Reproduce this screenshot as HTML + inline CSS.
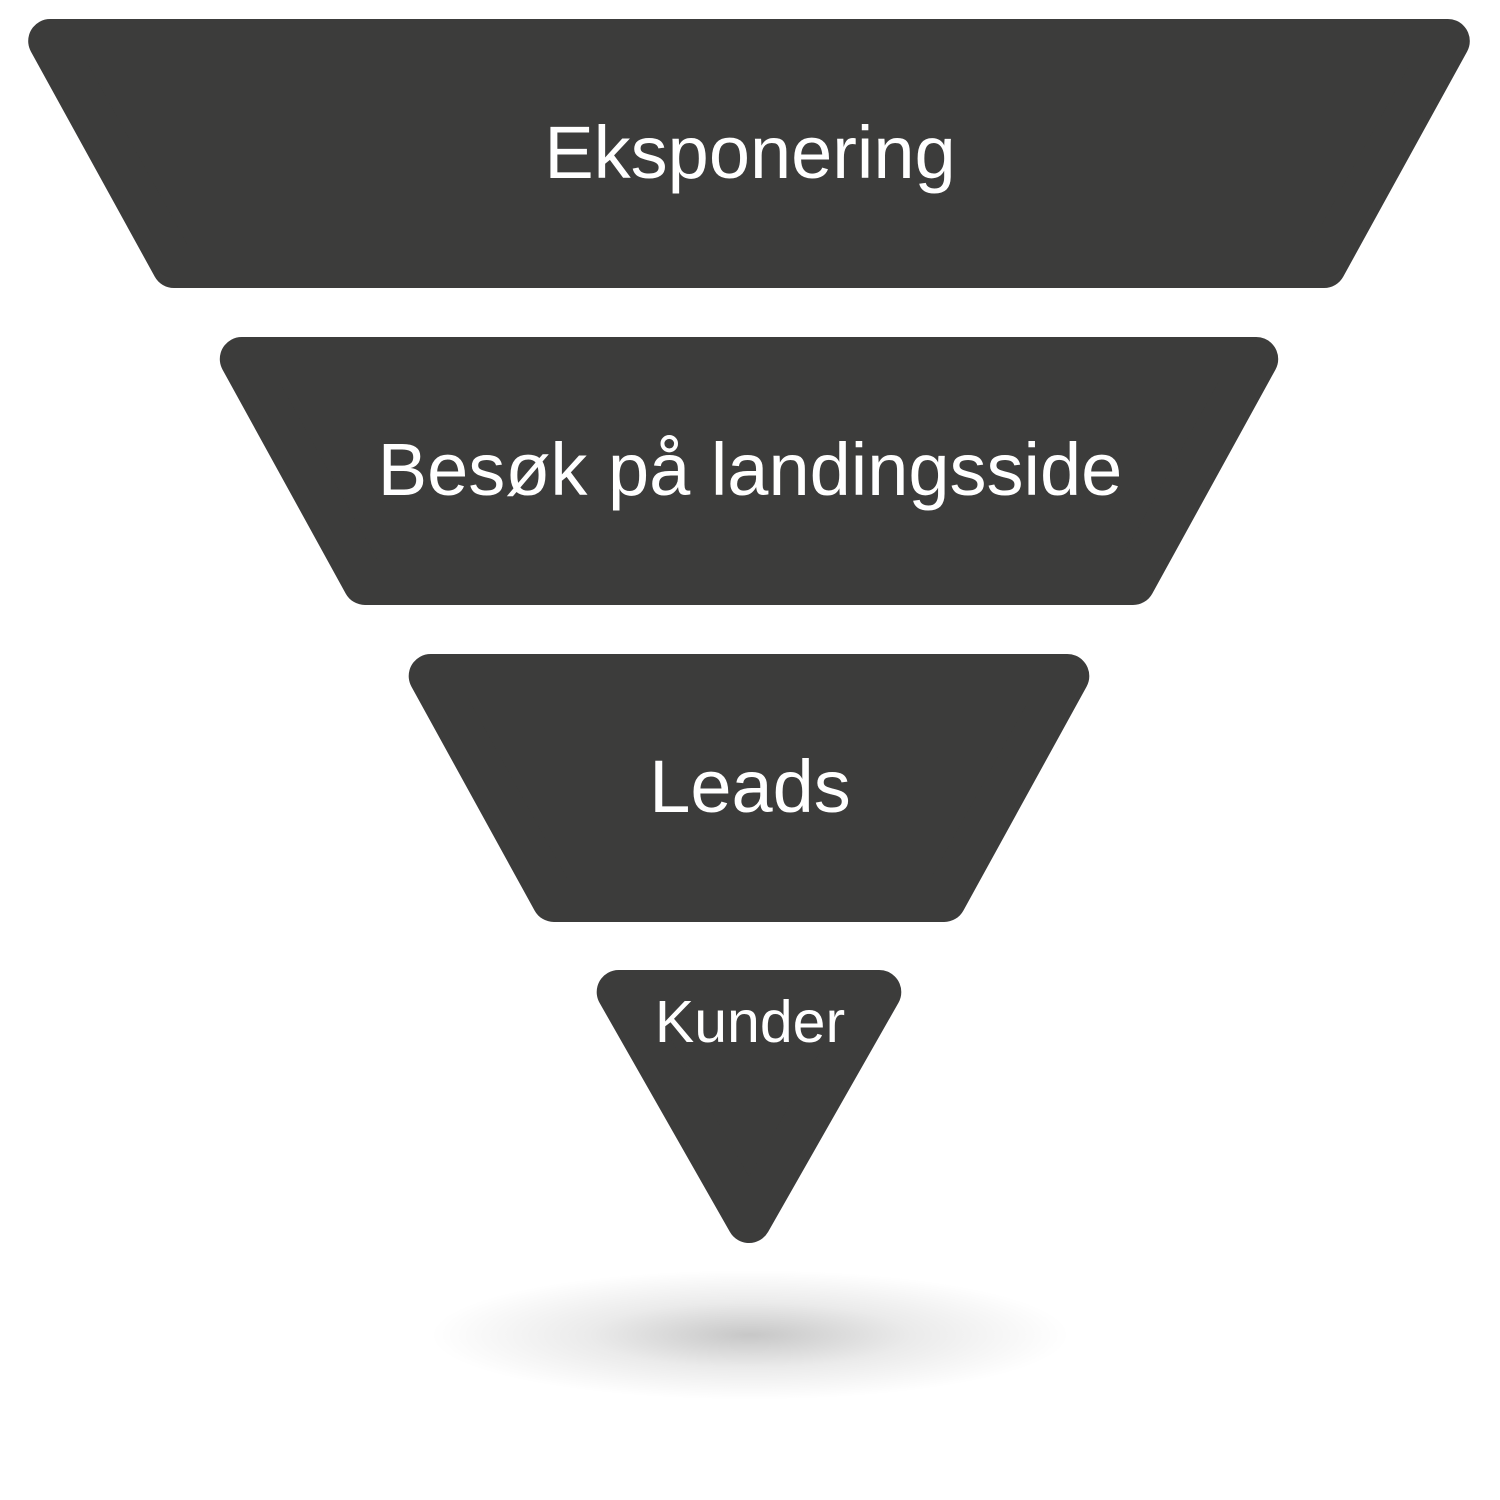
<!DOCTYPE html>
<html><head><meta charset="utf-8"><style>
html,body{margin:0;padding:0;background:#fff;}
svg{display:block}
text{font-family:"Liberation Sans",sans-serif;fill:#fff;text-anchor:middle}
</style></head><body>
<svg width="1500" height="1500" viewBox="0 0 1500 1500">
<defs>
<radialGradient id="sh" cx="50%" cy="50%" r="50%">
<stop offset="0" stop-color="#000" stop-opacity="0.22"/>
<stop offset="0.5" stop-color="#000" stop-opacity="0.08"/>
<stop offset="1" stop-color="#000" stop-opacity="0"/>
</radialGradient>
</defs>
<ellipse cx="750" cy="1335" rx="320" ry="65" fill="url(#sh)"/>
<g fill="#3c3c3b" stroke="#3c3c3b" stroke-width="44" stroke-linejoin="round">
<polygon points="50.2,41 1447.8,41 1324,266 174,266"/>
<polygon points="241.8,359 1256.2,359 1133,583 365,583"/>
<polygon points="430.7,676 1067.3,676 944.1,900 553.9,900"/>
<polygon points="618.7,992 879.3,992 749,1221"/>
</g>
<text x="750" y="178" font-size="74">Eksponering</text>
<text x="750" y="495" font-size="74">Besøk på landingsside</text>
<text x="750" y="812" font-size="74">Leads</text>
<text x="750" y="1042" font-size="59">Kunder</text>
</svg>
</body></html>
